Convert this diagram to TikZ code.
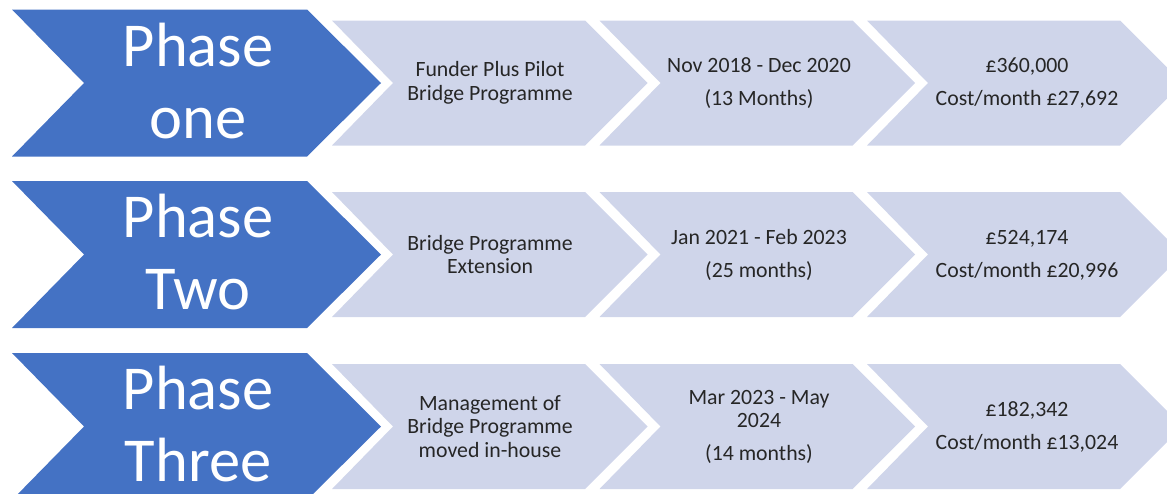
\documentclass[tikz,border=0pt]{standalone}
\usepackage{fontspec}
\setmainfont{Carlito}
\definecolor{phaseblue}{HTML}{4472C4}
\definecolor{stagegray}{HTML}{CFD5EA}
\definecolor{inktext}{HTML}{262626}
\begin{document}
\begin{tikzpicture}[x=1pt,y=-1pt,
  phasebox/.style={fill=phaseblue, draw=none},
  stagebox/.style={fill=stagegray, draw=none},
  phaselabel/.style={text=white, align=center, inner sep=0pt,
    font=\fontsize{62.5}{72}\selectfont},
  stagelabel/.style={text=inktext, align=center, inner sep=0pt,
    font=\fontsize{21.8}{23.5}\selectfont}]
\useasboundingbox (0,0) rectangle (1167,493);
\clip (0,0) rectangle (1167,493);

% chevrons: one blue phase arrow and three grey stage arrows per row
\foreach \c in {83,254.5,426.5}{
  \path[phasebox] (12,\c-73.5) -- (307,\c-73.5) -- (381,\c) -- (307,\c+73.5)
    -- (12,\c+73.5) -- (84,\c) -- cycle;
  \foreach \x in {332,599.5,867}{
    \path[stagebox] (\x,\c-62.5) -- (\x+253,\c-62.5) -- (\x+315.5,\c)
      -- (\x+253,\c+62.5) -- (\x,\c+62.5) -- (\x+61,\c) -- cycle;
  }
}

% row 1
\node[phaselabel] (p1) at (198,81) {Phase\\one};
\node[stagelabel] (p1what) at (490,83) {Funder Plus Pilot\\Bridge Programme};
\node[stagelabel] (p1when) at (759,83.5) {Nov 2018 - Dec 2020\\[9.5pt](13 Months)};
\node[stagelabel] (p1cost) at (1027,83.5) {£360,000\\[9.5pt]Cost/month £27,692};

% row 2
\node[phaselabel] (p2) at (198,252.5) {Phase\\Two};
\node[stagelabel] (p2what) at (490,254.5) {Bridge Programme\\Extension};
\node[stagelabel] (p2when) at (759,255) {Jan 2021 - Feb 2023\\[9.5pt](25 months)};
\node[stagelabel] (p2cost) at (1027,255) {£524,174\\[9.5pt]Cost/month £20,996};

% row 3
\node[phaselabel] (p3) at (198,424.5) {Phase\\Three};
\node[stagelabel] (p3what) at (490,426.5) {Management of\\Bridge Programme\\moved in-house};
\node[stagelabel] (p3when) at (759,427) {Mar 2023 - May\\2024\\[9.5pt](14 months)};
\node[stagelabel] (p3cost) at (1027,427) {£182,342\\[9.5pt]Cost/month £13,024};
\end{tikzpicture}
\end{document}
